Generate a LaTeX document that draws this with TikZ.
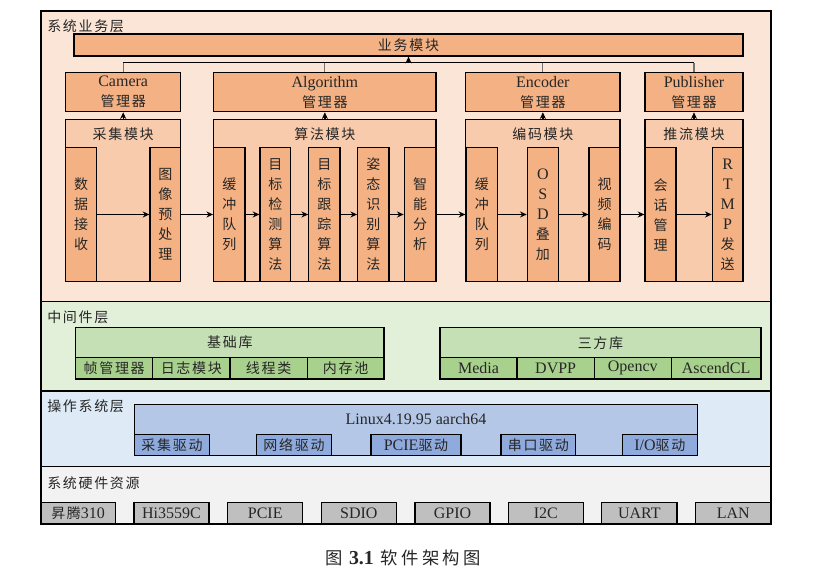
\documentclass[tikz,border=0pt]{standalone}
\usepackage{fontspec}
\setmainfont{Liberation Serif}[Scale=1.143]
\newfontfamily\cjk{Noto Sans CJK SC}[LetterSpace=12]
\newfontfamily\capzh{Noto Sans CJK SC}[LetterSpace=20]
\usetikzlibrary{arrows.meta}
\definecolor{bizbg}{HTML}{FBE5D6}
\definecolor{mgrc}{HTML}{F4B183}
\definecolor{modc}{HTML}{F8CBAD}
\definecolor{midbg}{HTML}{E2F0D9}
\definecolor{libh}{HTML}{C5E0B4}
\definecolor{libs}{HTML}{A9D18E}
\definecolor{osbg}{HTML}{DEEBF7}
\definecolor{linuxc}{HTML}{B4C7E7}
\definecolor{drvc}{HTML}{8FAADC}
\definecolor{hwbg}{HTML}{F2F2F2}
\definecolor{hwc}{HTML}{BFBFBF}
\definecolor{txt}{HTML}{262626}
\newcommand\bx[7]{\node[#6, minimum width={(#4-#2)*0.75pt}, minimum height={(#5-#3)*0.75pt}] (#1) at ({(#2+#4)/2},{(#3+#5)/2}) {#7};}
\tikzset{
  box/.style={draw=black, line width=0.9pt, inner sep=0pt, align=center, text=txt},
  layer/.style={box},
  mgr/.style={box, fill=mgrc},
  modbox/.style={box, fill=modc},
  inn/.style={box, fill=mgrc, font=\cjk\fontsize{10.5}{15}\selectfont},
  lbl/.style={anchor=west, inner sep=0pt, text=txt, font=\cjk\fontsize{10.5}{15}\selectfont},
  zh/.style={inner sep=0pt, text=txt, font=\cjk\fontsize{10.5}{15}\selectfont},
  arr/.style={line width=1pt, -{Stealth[length=5pt,width=4.5pt]}},
  busv/.style={line width=0.9pt, draw=black!55},
  bush/.style={line width=1pt, draw=black},
}
\begin{document}
\begin{tikzpicture}[x=0.75pt, y=-0.75pt, font=\fontsize{10.5}{15}\selectfont]
\useasboundingbox (0,0) rectangle (813,580);
% layers
\bx{L1}{41}{11}{771}{301.7}{layer, fill=bizbg}{}
\bx{L2}{41}{301.7}{771}{391}{layer, fill=midbg}{}
\bx{L3}{41}{391}{771}{466.7}{layer, fill=osbg}{}
\bx{L4}{41}{466.7}{771}{524}{layer, fill=hwbg}{}
\node[lbl] (L1t) at (47,26) {系统业务层};
\node[lbl] (L2t) at (47,317.7) {中间件层};
\node[lbl] (L3t) at (47,406) {操作系统层};
\node[lbl] (L4t) at (47,482.7) {系统硬件资源};
% business module bar
\bx{yw}{74}{34}{743}{56}{mgr, font=\cjk\fontsize{10.5}{15}\selectfont}{业务模块}
% managers
\bx{g1}{65.7}{72.7}{180.7}{111.7}{mgr}{Camera\\{\cjk 管理器}}
\bx{g2}{213.7}{72.7}{436}{111.7}{mgr}{Algorithm\\{\cjk 管理器}}
\bx{g3}{465.7}{72.7}{620}{111.7}{mgr}{Encoder\\{\cjk 管理器}}
\bx{g4}{645}{72.7}{743}{111.7}{mgr}{Publisher\\{\cjk 管理器}}
% modules
\bx{m1}{65.7}{119.3}{180.7}{281.7}{modbox}{}
\bx{m2}{213.7}{119.3}{436}{281.7}{modbox}{}
\bx{m3}{465.7}{119.3}{620}{281.7}{modbox}{}
\bx{m4}{645}{119.3}{743}{281.7}{modbox}{}
\node[zh] (m1t) at (123.2,134) {采集模块};
\node[zh] (m2t) at (324.85,134) {算法模块};
\node[zh] (m3t) at (542.85,134) {编码模块};
\node[zh] (m4t) at (694,134) {推流模块};
% inner boxes
\bx{a1}{65.7}{147.3}{96.7}{281.7}{inn}{数\\据\\接\\收}
\bx{a2}{150}{147.3}{180.7}{281.7}{inn}{图\\像\\预\\处\\理}
\bx{b1}{213.7}{147.3}{245}{281.7}{inn}{缓\\冲\\队\\列}
\bx{b2}{260}{147.3}{290.7}{281.7}{inn}{目\\标\\检\\测\\算\\法}
\bx{b3}{308.7}{147.3}{340}{281.7}{inn}{目\\标\\跟\\踪\\算\\法}
\bx{b4}{357.7}{147.3}{389}{281.7}{inn}{姿\\态\\识\\别\\算\\法}
\bx{b5}{404.3}{147.3}{436}{281.7}{inn}{智\\能\\分\\析}
\bx{c1}{466}{147.3}{497.7}{281.7}{inn}{缓\\冲\\队\\列}
\bx{c2}{527.3}{147.3}{558.3}{281.7}{inn}{{\rmfamily O}\\{\rmfamily S}\\{\rmfamily D}\\叠\\加}
\bx{c3}{589}{147.3}{620}{281.7}{inn}{视\\频\\编\\码}
\bx{d1}{645}{147.3}{676}{281.7}{inn}{会\\话\\管\\理}
\bx{d2}{712.3}{147.3}{743}{281.7}{inn}{{\rmfamily R}\\{\rmfamily T}\\{\rmfamily M}\\{\rmfamily P}\\发\\送}
% data flow arrows
\draw[arr] (a1) -- (a2);
\draw[arr] (a2) -- (b1);
\draw[arr] (b1) -- (b2);
\draw[arr] (b2) -- (b3);
\draw[arr] (b3) -- (b4);
\draw[arr] (b4) -- (b5);
\draw[arr] (b5) -- (c1);
\draw[arr] (c1) -- (c2);
\draw[arr] (c2) -- (c3);
\draw[arr] (c3) -- (d1);
\draw[arr] (d1) -- (d2);
% module to manager
\draw[arr] (m1.north) -- (g1.south);
\draw[arr] (m2.north) -- (g2.south);
\draw[arr] (m3.north) -- (g3.south);
\draw[arr] (m4.north) -- (g4.south);
% bus
\coordinate (bj) at (408.5,62.7);
\draw[busv] (g1.north) -- (g1.north |- bj);
\draw[busv] (g2.north) -- (g2.north |- bj);
\draw[busv] (g3.north) -- (g3.north |- bj);
\draw[busv] (g4.north) -- (g4.north |- bj);
\draw[bush] (g1.north |- bj) -- (g4.north |- bj);
\draw[arr] (bj) -- (yw.south);
% middleware
\bx{jc}{75.7}{327.7}{384}{357.7}{box, fill=libh, font=\cjk\fontsize{10.5}{15}\selectfont}{基础库}
\bx{jc1}{75.7}{357.7}{152.7}{379}{box, fill=libs, font=\cjk\fontsize{10.5}{15}\selectfont}{帧管理器}
\bx{jc2}{152.7}{357.7}{230}{379}{box, fill=libs, font=\cjk\fontsize{10.5}{15}\selectfont}{日志模块}
\bx{jc3}{230}{357.7}{307.3}{379}{box, fill=libs, font=\cjk\fontsize{10.5}{15}\selectfont}{线程类}
\bx{jc4}{307.3}{357.7}{384}{379}{box, fill=libs, font=\cjk\fontsize{10.5}{15}\selectfont}{内存池}
\bx{sf}{440}{327.7}{761}{357.7}{box, fill=libh, font=\cjk\fontsize{10.5}{15}\selectfont}{三方库}
\bx{sf1}{440}{357.7}{517}{379}{box, fill=libs}{Media}
\bx{sf2}{517}{357.7}{594.3}{379}{box, fill=libs}{DVPP}
\bx{sf3}{594.3}{357.7}{671.3}{379}{box, fill=libs}{Opencv}
\bx{sf4}{671.3}{357.7}{761}{379}{box, fill=libs}{AscendCL}
% OS
\bx{lx}{134.7}{404.3}{697.3}{455.7}{box, fill=linuxc}{}
\node[inner sep=0pt, text=txt] (lxt) at (416,419) {Linux4.19.95 aarch64};
\bx{dr1}{134.7}{434.3}{209.3}{455.7}{box, fill=drvc, font=\cjk\fontsize{10.5}{15}\selectfont}{采集驱动}
\bx{dr2}{256.7}{434.3}{331.3}{455.7}{box, fill=drvc, font=\cjk\fontsize{10.5}{15}\selectfont}{网络驱动}
\bx{dr3}{371}{434.3}{461}{455.7}{box, fill=drvc}{PCIE{\cjk 驱动}}
\bx{dr4}{501}{434.3}{575.7}{455.7}{box, fill=drvc, font=\cjk\fontsize{10.5}{15}\selectfont}{串口驱动}
\bx{dr5}{622.3}{434.3}{697.3}{455.7}{box, fill=drvc}{I/O{\cjk 驱动}}
% hardware
\bx{h1}{41}{502.3}{115.3}{524}{box, fill=hwc}{{\cjk 昇腾}310}
\bx{h2}{134}{502.3}{209}{524}{box, fill=hwc}{Hi3559C}
\bx{h3}{227.7}{502.3}{302.7}{524}{box, fill=hwc}{PCIE}
\bx{h4}{321.3}{502.3}{396.3}{524}{box, fill=hwc}{SDIO}
\bx{h5}{415}{502.3}{490}{524}{box, fill=hwc}{GPIO}
\bx{h6}{508.3}{502.3}{583.3}{524}{box, fill=hwc}{I2C}
\bx{h7}{601.7}{502.3}{677}{524}{box, fill=hwc}{UART}
\bx{h8}{695.7}{502.3}{771}{524}{box, fill=hwc}{LAN}
% caption
\node[inner sep=0pt, text=txt, font=\capzh\fontsize{13}{15}\selectfont] (cap) at (403,558) {图\hspace{5pt}{\rmfamily\bfseries 3.1}\hspace{5pt}软件架构图};
\end{tikzpicture}
\end{document}
